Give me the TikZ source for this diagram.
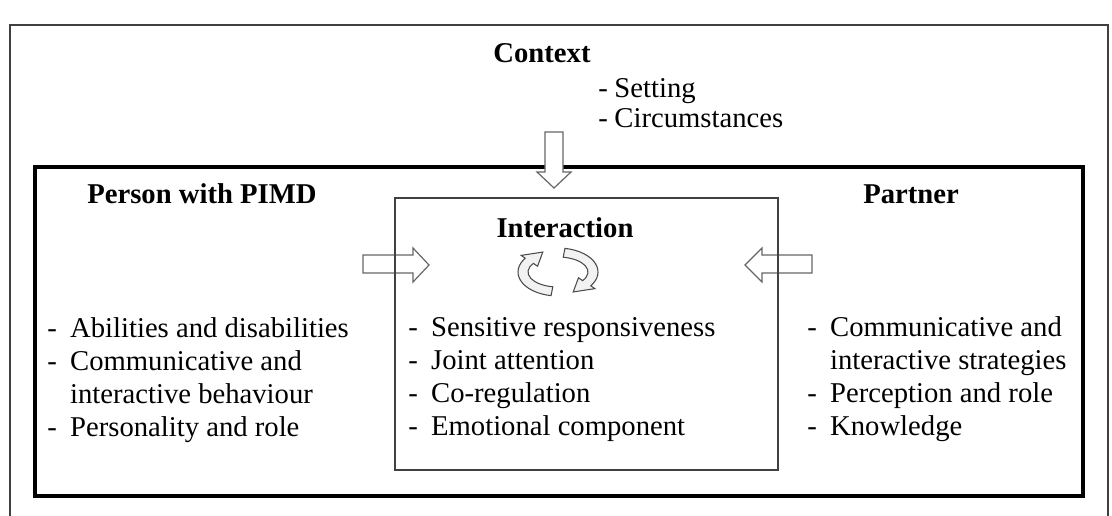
\documentclass[tikz,border=0pt]{standalone}
\usepackage{fontspec}
\setmainfont{Liberation Serif}
\newcommand{\dashlist}[1]{\begin{tabular}[t]{@{}l@{\hspace{10pt}}l@{}}#1\end{tabular}}
\begin{document}
\begin{tikzpicture}[x=0.75pt,y=-0.75pt,
  every node/.style={inner sep=0pt,font=\fontsize{21.5}{24.75}\selectfont},
  title/.style={anchor=base,font=\fontsize{21.5}{24.75}\selectfont\bfseries},
  list/.style={anchor=base west,align=left},
  frame/.style={draw=black!75,line width=1.1pt},
  bigarrow/.style={draw=black!60,fill=white,line width=0.9pt,line join=miter},
  turn/.style={draw=black!70,fill=black!5,line width=0.8pt}]
\useasboundingbox (0,0) rectangle (1112,515);

% context frame, open at the bottom
\draw[frame] (10,530) -- (10,25) -- (1108,25) -- (1108,530);
% person / partner frame
\draw[line width=3pt] (35,167) rectangle (1083,496);

% arrows from both sides
\draw[bigarrow] (363,255) -- (413,255) -- (413,248) -- (429,265) -- (413,282) -- (413,273) -- (363,273) -- cycle;
\draw[bigarrow] (812,255) -- (762,255) -- (762,248) -- (745,265) -- (762,282) -- (762,273) -- (812,273) -- cycle;

% interaction box
\draw[frame] (395,198) rectangle (778,470);

% arrow from the context
\draw[bigarrow] (545,132) -- (563,132) -- (563,172) -- (571,172) -- (554,188) -- (537,172) -- (545,172) -- cycle;

% turn taking arrows
\begin{scope}[shift={(558,272)}]
\foreach \r in {0,180}{
  \begin{scope}[rotate=\r]
  \draw[turn] (100:40 and 24) arc[start angle=100,end angle=215,x radius=40,y radius=24]
    -- (215:45 and 29) -- (245:36 and 22) -- (215:25 and 10) -- (215:30 and 15)
    arc[start angle=215,end angle=100,x radius=30,y radius=15] -- cycle;
  \end{scope}
}
\end{scope}

% texts
\node[title] (ctx) at (542,62) {Context};
\node[list] (setting) at (598,97) {\begin{tabular}[t]{@{}l@{\hspace{5pt}}l@{}}-&Setting\\[-2pt]-&Circumstances\end{tabular}};

\node[title] (person) at (202,203) {Person with PIMD};
\node[title] (partner) at (911,203) {Partner};
\node[title] (inter) at (565,237) {Interaction};

\node[list] (plist) at (47,337) {\dashlist{-&Abilities and disabilities\\-&Communicative and\\&interactive behaviour\\-&Personality and role}};
\node[list] (ilist) at (408,336) {\dashlist{-&Sensitive responsiveness\\-&Joint attention\\-&Co-regulation\\-&Emotional component}};
\node[list] (rlist) at (807,336) {\dashlist{-&Communicative and\\&interactive strategies\\-&Perception and role\\-&Knowledge}};
\end{tikzpicture}
\end{document}
